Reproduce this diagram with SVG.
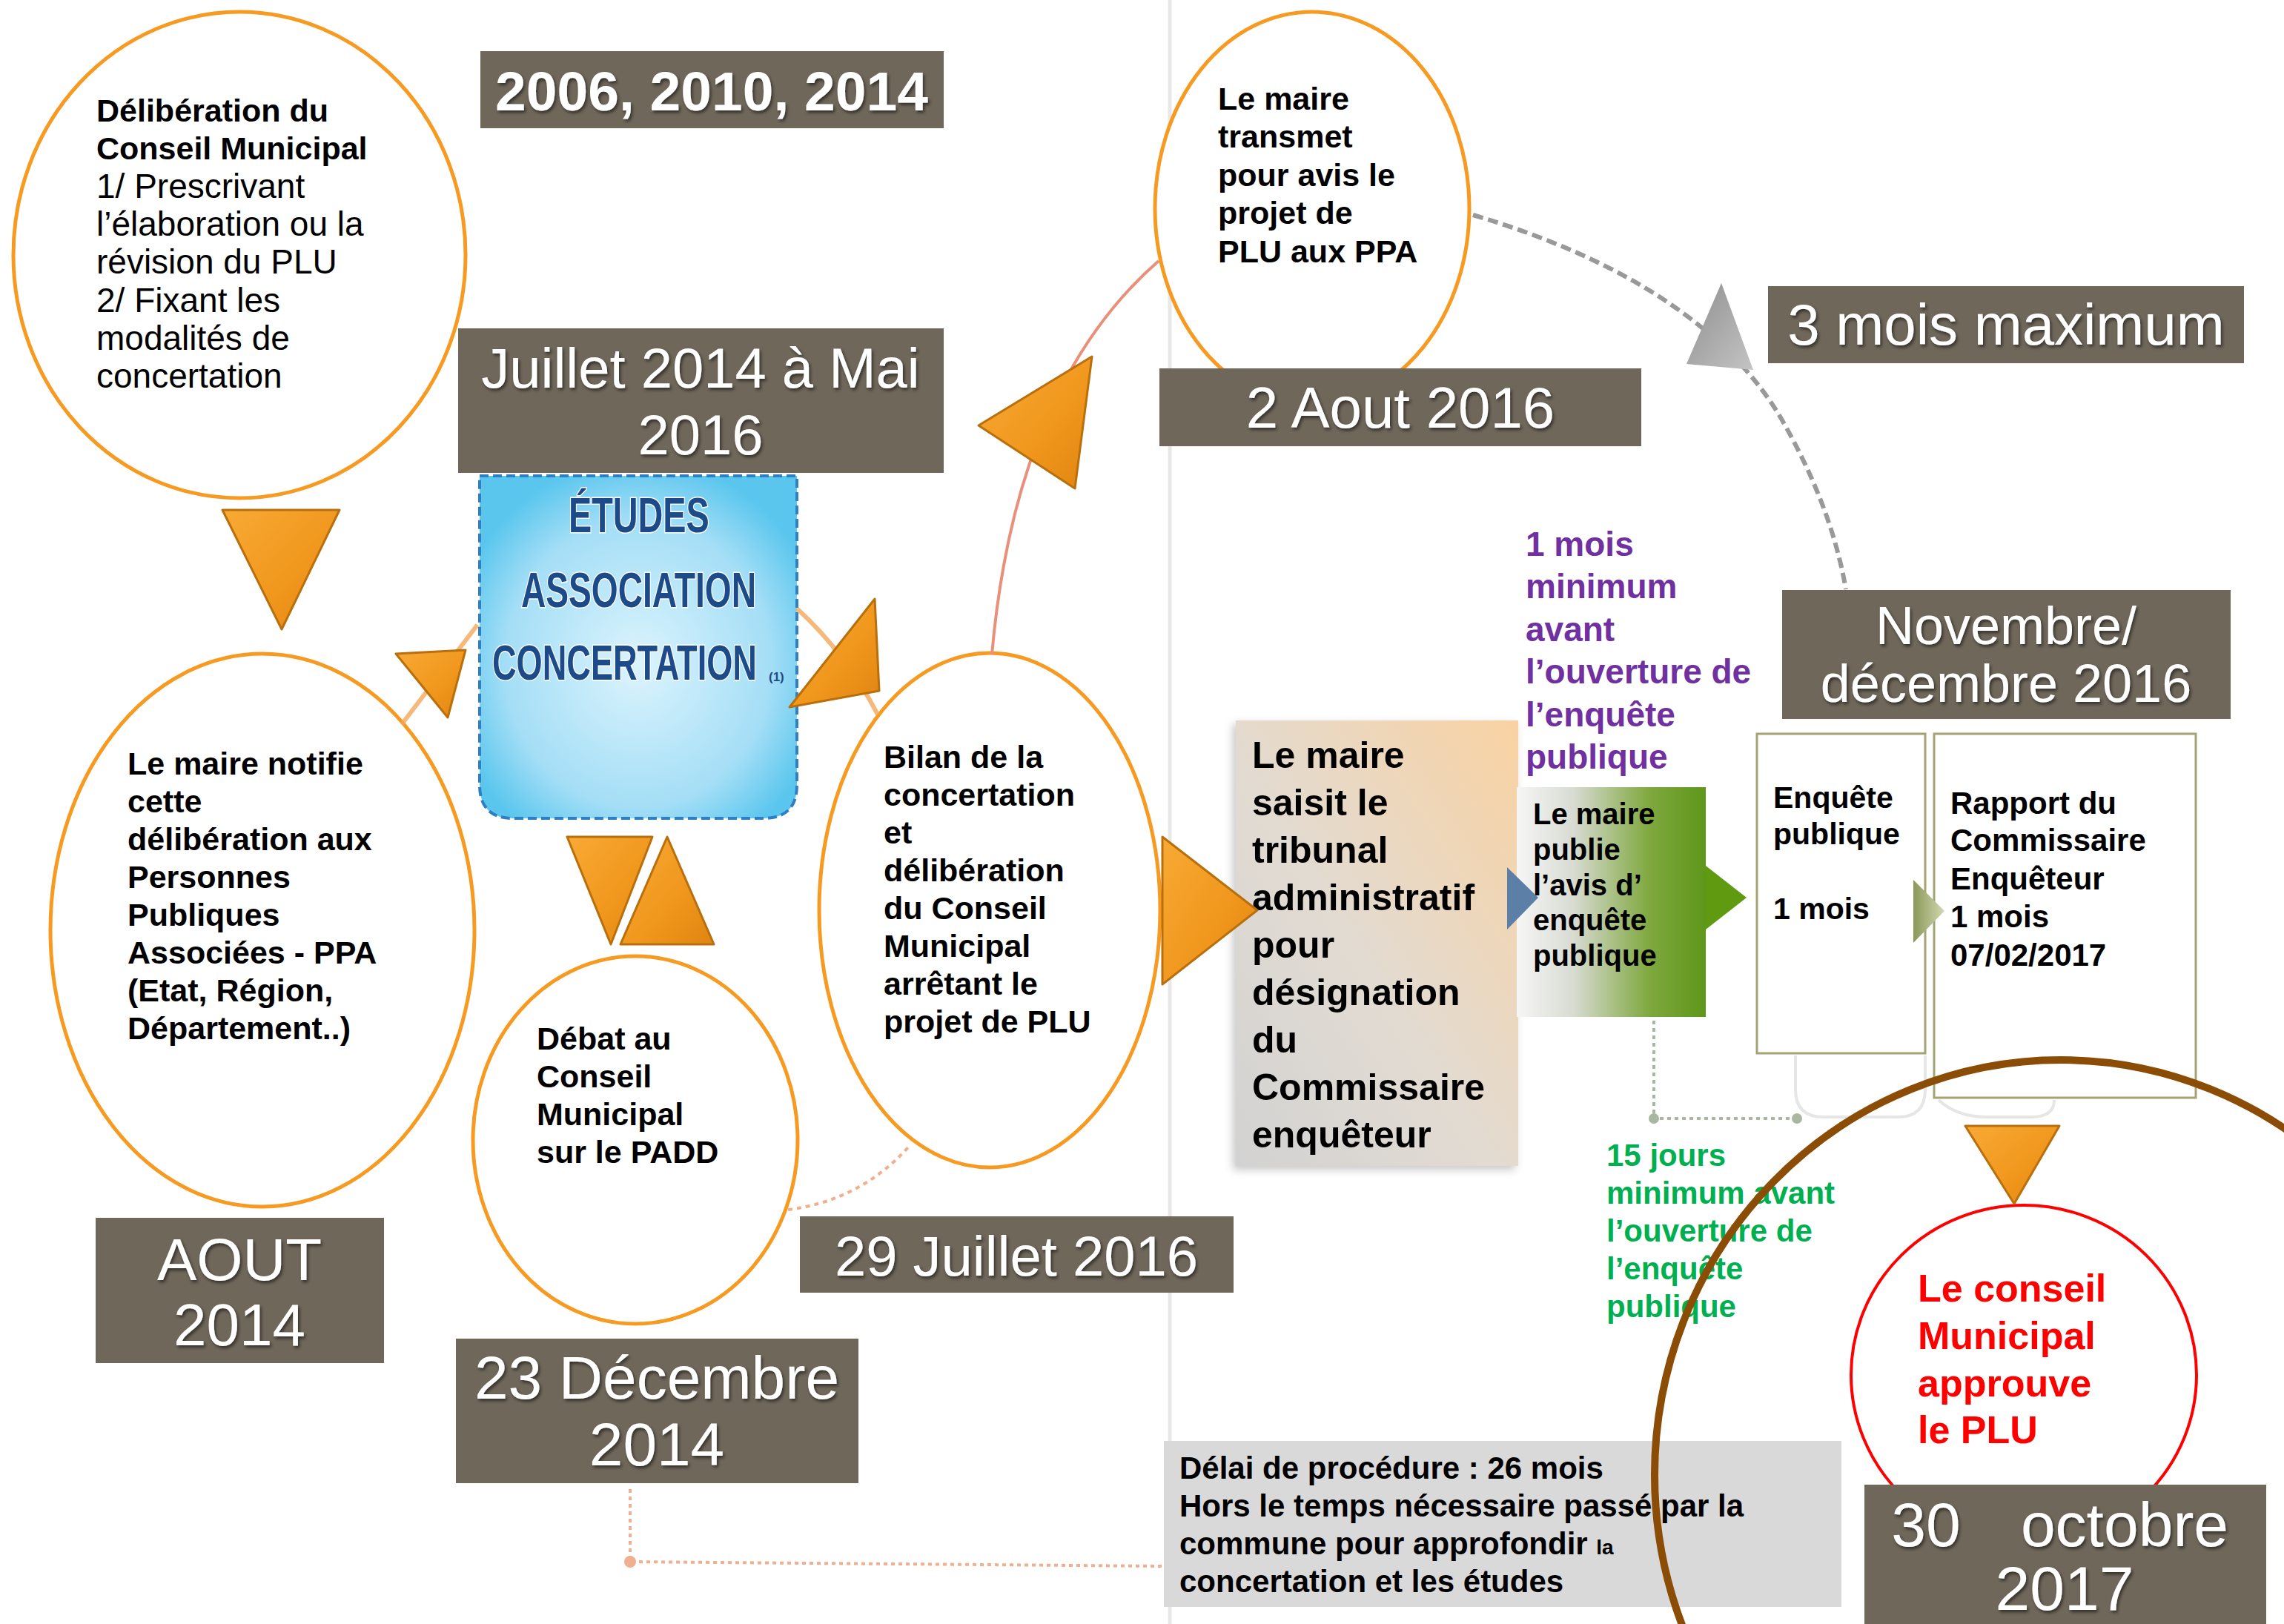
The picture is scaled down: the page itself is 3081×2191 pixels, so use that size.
<svg xmlns="http://www.w3.org/2000/svg" width="3081" height="2191" viewBox="0 0 3081 2191">
<defs>
<style>
.ell{fill:#ffffff;stroke:#f79a22;stroke-width:5}
.lab{fill:#6f675a}
.lt{font-family:"Liberation Sans",Arial,sans-serif;fill:#ffffff;text-anchor:middle;filter:url(#ts)}
.bt{font-family:"Liberation Sans",Arial,sans-serif;font-weight:bold;font-size:43px;fill:#000000}
.rt{font-family:"Liberation Sans",Arial,sans-serif;font-size:46px;fill:#000000}
.tri{fill:url(#og);stroke:#b9700c;stroke-width:3;stroke-linejoin:round}
.et{font-family:"Liberation Sans",Arial,sans-serif;font-weight:bold;font-size:66px;fill:#1d4a88;stroke:#ffffff;stroke-width:3;paint-order:stroke}
</style>
<filter id="ts" x="-10%" y="-20%" width="120%" height="140%">
<feDropShadow dx="2" dy="3" stdDeviation="2" flood-color="#000000" flood-opacity="0.55"/>
</filter>
<filter id="sh" x="-10%" y="-10%" width="125%" height="125%">
<feDropShadow dx="-4" dy="5" stdDeviation="6" flood-color="#000000" flood-opacity="0.22"/>
</filter>
<linearGradient id="og" x1="0" y1="0" x2="1" y2="1">
<stop offset="0" stop-color="#f8aa35"/>
<stop offset="0.6" stop-color="#f0961c"/>
<stop offset="1" stop-color="#e08410"/>
</linearGradient>
<linearGradient id="gg" x1="0" y1="0" x2="1" y2="1">
<stop offset="0" stop-color="#8e8e8e"/>
<stop offset="1" stop-color="#c4c4c4"/>
</linearGradient>
<radialGradient id="bg" cx="0.5" cy="0.55" r="0.6">
<stop offset="0" stop-color="#dcf4fd"/>
<stop offset="0.7" stop-color="#a4def6"/>
<stop offset="1" stop-color="#5ac6ee"/>
</radialGradient>
<linearGradient id="tg" x1="1" y1="0" x2="0" y2="1">
<stop offset="0" stop-color="#f9d2a2"/>
<stop offset="0.55" stop-color="#e2dbd2"/>
<stop offset="1" stop-color="#d2d2d2"/>
</linearGradient>
<linearGradient id="grg" x1="0" y1="0" x2="1" y2="0">
<stop offset="0" stop-color="#f6f6f6"/>
<stop offset="0.3" stop-color="#d8dbd2"/>
<stop offset="0.7" stop-color="#7fa83e"/>
<stop offset="1" stop-color="#5e971a"/>
</linearGradient>
<linearGradient id="olg" x1="0" y1="0" x2="1" y2="0">
<stop offset="0" stop-color="#8a9858"/>
<stop offset="1" stop-color="#d2d8b2"/>
</linearGradient>
</defs>
<rect x="0" y="0" width="3081" height="2191" fill="#ffffff"/>
<line x1="1578" y1="0" x2="1578" y2="2191" stroke="#e8e8e8" stroke-width="5"/>

<g id="n1">
<ellipse class="ell" cx="323" cy="344" rx="305" ry="328"/>
<text class="bt" x="130" y="164">Délibération du</text>
<text class="bt" x="130" y="215">Conseil Municipal</text>
<text class="rt" x="130" y="267">1/ Prescrivant</text>
<text class="rt" x="130" y="318">l’élaboration ou la</text>
<text class="rt" x="130" y="369">révision du PLU</text>
<text class="rt" x="130" y="421">2/ Fixant les</text>
<text class="rt" x="130" y="472">modalités de</text>
<text class="rt" x="130" y="523">concertation</text>
</g>

<g id="l1">
<rect class="lab" x="648" y="69" width="625" height="104"/>
<text class="lt" x="960" y="149" font-size="75" font-weight="bold">2006, 2010, 2014</text>
</g>

<g id="n2">
<ellipse class="ell" cx="354" cy="1255" rx="286" ry="373"/>
<text class="bt" x="172" y="1045">Le maire notifie</text>
<text class="bt" x="172" y="1096">cette</text>
<text class="bt" x="172" y="1147">délibération aux</text>
<text class="bt" x="172" y="1198">Personnes</text>
<text class="bt" x="172" y="1249">Publiques</text>
<text class="bt" x="172" y="1300">Associées - PPA</text>
<text class="bt" x="172" y="1351">(Etat, Région,</text>
<text class="bt" x="172" y="1402">Département..)</text>
</g>

<g id="n3">
<ellipse class="ell" cx="857" cy="1538" rx="219" ry="248"/>
<text class="bt" x="724" y="1416">Débat au</text>
<text class="bt" x="724" y="1467">Conseil</text>
<text class="bt" x="724" y="1518">Municipal</text>
<text class="bt" x="724" y="1569">sur le PADD</text>
</g>

<g id="n4">
<ellipse class="ell" cx="1335" cy="1228" rx="230" ry="347"/>
<text class="bt" x="1192" y="1036">Bilan de la</text>
<text class="bt" x="1192" y="1087">concertation</text>
<text class="bt" x="1192" y="1138">et</text>
<text class="bt" x="1192" y="1189">délibération</text>
<text class="bt" x="1192" y="1240">du Conseil</text>
<text class="bt" x="1192" y="1291">Municipal</text>
<text class="bt" x="1192" y="1342">arrêtant le</text>
<text class="bt" x="1192" y="1393">projet de PLU</text>
</g>

<g id="n5">
<ellipse class="ell" cx="1770" cy="281" rx="212" ry="265"/>
<text class="bt" x="1643" y="148">Le maire</text>
<text class="bt" x="1643" y="199">transmet</text>
<text class="bt" x="1643" y="251">pour avis le</text>
<text class="bt" x="1643" y="302">projet de</text>
<text class="bt" x="1643" y="354">PLU aux PPA</text>
</g>

<g id="etudes">
<path d="M647,642 H1075 V1059 Q1075,1104 1030,1104 H692 Q647,1104 647,1059 Z" fill="url(#bg)" stroke="#2f7fc4" stroke-width="4" stroke-dasharray="12 6"/>
<text class="et" x="0" y="0" transform="translate(767,718) scale(0.709,1)">ÉTUDES</text>
<text class="et" x="0" y="0" transform="translate(703,819) scale(0.699,1)">ASSOCIATION</text>
<text class="et" x="0" y="0" transform="translate(664,917) scale(0.684,1)">CONCERTATION</text>
<text x="1037" y="919" font-family="Liberation Sans,Arial,sans-serif" font-weight="bold" font-size="17" fill="#1d4a88">(1)</text>
</g>

<g id="l2">
<rect class="lab" x="618" y="443" width="655" height="195"/>
<text class="lt" x="945" y="523" font-size="76">Juillet 2014 à Mai</text>
<text class="lt" x="945" y="613" font-size="76">2016</text>
</g>

<g id="l3">
<rect class="lab" x="129" y="1643" width="389" height="196"/>
<text class="lt" x="323" y="1727" font-size="80">AOUT</text>
<text class="lt" x="323" y="1815" font-size="80">2014</text>
</g>

<g id="l4">
<rect class="lab" x="615" y="1806" width="543" height="195"/>
<text class="lt" x="886" y="1887" font-size="82">23 Décembre</text>
<text class="lt" x="886" y="1977" font-size="82">2014</text>
</g>

<g id="l5">
<rect class="lab" x="1079" y="1641" width="585" height="103"/>
<text class="lt" x="1371" y="1721" font-size="76">29 Juillet 2016</text>
</g>

<g id="l6">
<rect class="lab" x="1564" y="497" width="650" height="105"/>
<text class="lt" x="1889" y="577" font-size="78">2 Aout 2016</text>
</g>

<g id="l7">
<rect class="lab" x="2385" y="386" width="642" height="104"/>
<text class="lt" x="2706" y="465" font-size="78">3 mois maximum</text>
</g>

<g id="n6">
<rect x="1667" y="972" width="381" height="601" fill="url(#tg)" filter="url(#sh)"/>
<g font-family="Liberation Sans,Arial,sans-serif" font-weight="bold" font-size="50" fill="#000000">
<text x="1689" y="1036">Le maire</text>
<text x="1689" y="1100">saisit le</text>
<text x="1689" y="1164">tribunal</text>
<text x="1689" y="1228">administratif</text>
<text x="1689" y="1292">pour</text>
<text x="1689" y="1356">désignation</text>
<text x="1689" y="1420">du</text>
<text x="1689" y="1484">Commissaire</text>
<text x="1689" y="1548">enquêteur</text>
</g>
</g>

<g id="t1" font-family="Liberation Sans,Arial,sans-serif" font-weight="bold" font-size="46" fill="#7030a0">
<text x="2058" y="750">1 mois</text>
<text x="2058" y="807">minimum</text>
<text x="2058" y="865">avant</text>
<text x="2058" y="922">l’ouverture de</text>
<text x="2058" y="980">l’enquête</text>
<text x="2058" y="1037">publique</text>
</g>

<g id="n7">
<rect x="2046" y="1062" width="255" height="310" fill="url(#grg)"/>
<g font-family="Liberation Sans,Arial,sans-serif" font-weight="bold" font-size="40" fill="#000000">
<text x="2068" y="1112">Le maire</text>
<text x="2068" y="1160">publie</text>
<text x="2068" y="1208">l’avis d’</text>
<text x="2068" y="1255">enquête</text>
<text x="2068" y="1303">publique</text>
</g>
</g>

<g id="n8">
<rect x="2370" y="990" width="227" height="431" fill="#ffffff" stroke="#a3a374" stroke-width="3"/>
<g font-family="Liberation Sans,Arial,sans-serif" font-weight="bold" font-size="41" fill="#000000">
<text x="2392" y="1090">Enquête</text>
<text x="2392" y="1139">publique</text>
<text x="2392" y="1240">1 mois</text>
</g>
</g>

<g id="n9">
<rect x="2609" y="990" width="353" height="491" fill="#ffffff" stroke="#a3a374" stroke-width="3"/>
<g font-family="Liberation Sans,Arial,sans-serif" font-weight="bold" font-size="42" fill="#000000">
<text x="2631" y="1098">Rapport du</text>
<text x="2631" y="1148">Commissaire</text>
<text x="2631" y="1200">Enquêteur</text>
<text x="2631" y="1251">1 mois</text>
<text x="2631" y="1303">07/02/2017</text>
</g>
</g>

<g id="l8">
<rect class="lab" x="2404" y="796" width="605" height="174"/>
<text class="lt" x="2706" y="869" font-size="72">Novembre/</text>
<text class="lt" x="2706" y="947" font-size="72">décembre 2016</text>
</g>

<g id="t2" font-family="Liberation Sans,Arial,sans-serif" font-weight="bold" font-size="42" fill="#00b050">
<text x="2167" y="1573">15 jours</text>
<text x="2167" y="1624">minimum avant</text>
<text x="2167" y="1675">l’ouverture de</text>
<text x="2167" y="1726">l’enquête</text>
<text x="2167" y="1777">publique</text>
</g>

<g id="n11">
<rect x="1570" y="1944" width="914" height="224" fill="#d9d9d9"/>
<g font-family="Liberation Sans,Arial,sans-serif" font-weight="bold" font-size="42" fill="#000000">
<text x="1591" y="1995">Délai de procédure : 26 mois</text>
<text x="1591" y="2046">Hors le temps nécessaire passé par la</text>
<text x="1591" y="2097">commune pour approfondir <tspan font-size="28">la</tspan></text>
<text x="1591" y="2148">concertation et les études</text>
</g>
</g>

<g id="n10">
<ellipse cx="2730" cy="1855" rx="233" ry="229" fill="#ffffff" stroke="#ff0000" stroke-width="4"/>
<g font-family="Liberation Sans,Arial,sans-serif" font-weight="bold" font-size="52" fill="#ff0000">
<text x="2587" y="1756">Le conseil</text>
<text x="2587" y="1820">Municipal</text>
<text x="2587" y="1884">approuve</text>
<text x="2587" y="1947">le PLU</text>
</g>
</g>

<g id="l9">
<rect class="lab" x="2515" y="2003" width="542" height="188"/>
<text class="lt" x="2598" y="2086" font-size="84">30</text>
<text class="lt" x="2866" y="2086" font-size="84">octobre</text>
<text class="lt" x="2785" y="2172" font-size="84">2017</text>
</g>

<g id="connectors">
<path d="M542,977 L644,843" fill="none" stroke="#f2a85a" stroke-width="6" opacity="0.8"/>
<path d="M1075,821 Q1140,880 1184,964" fill="none" stroke="#f2a85a" stroke-width="6" opacity="0.8"/>
<path d="M1338,883 Q1370,520 1563,352" fill="none" stroke="#e8907a" stroke-width="4"/>
<path d="M1063,1632 Q1160,1620 1226,1547" fill="none" stroke="#f0b090" stroke-width="4" stroke-dasharray="6 6"/>
<path d="M850,2009 L850,2107 L1568,2113" fill="none" stroke="#f0b090" stroke-width="4" stroke-dasharray="5 5"/>
<circle cx="850" cy="2107" r="8" fill="#f0b090"/>
<path d="M1987,290 Q2290,380 2400,560 Q2470,680 2490,795" fill="none" stroke="#999999" stroke-width="6" stroke-dasharray="14 7"/>
<path d="M2231,1377 L2231,1509 L2424,1509" fill="none" stroke="#a8b8a0" stroke-width="4" stroke-dasharray="5 5"/>
<circle cx="2231" cy="1509" r="7" fill="#a8b8a0"/>
<circle cx="2424" cy="1509" r="7" fill="#a8b8a0"/>
<path d="M2422,1424 L2422,1470 Q2422,1507 2460,1507 L2560,1507 Q2597,1507 2597,1470 L2597,1424" fill="none" stroke="#e6e6e6" stroke-width="4"/>
<path d="M2615,1484 Q2640,1507 2680,1507 L2740,1507 Q2771,1507 2771,1484" fill="none" stroke="#e6e6e6" stroke-width="4"/>
<polygon class="tri" points="300,688 458,688 380,849"/>
<polygon class="tri" points="534,882 628,877 604,968"/>
<polygon class="tri" points="1180,808 1186,932 1065,954"/>
<polygon class="tri" points="765,1129 880,1129 824,1274"/>
<polygon class="tri" points="900,1129 963,1274 837,1274"/>
<polygon class="tri" points="1320,574 1473,481 1450,659"/>
<polygon class="tri" points="1568,1129 1696,1228 1568,1328"/>
<polygon fill="url(#gg)" points="2322,382 2275,491 2365,499"/>
<polygon fill="#5b7fa6" points="2033,1170 2075,1211 2033,1254"/>
<polygon fill="#5f9a10" points="2301,1168 2356,1211 2301,1254"/>
<polygon fill="url(#olg)" points="2581,1187 2623,1229 2581,1272"/>
</g>

<g id="arc">
<ellipse cx="2780" cy="1990" rx="548" ry="560" fill="none" stroke="#8b4c06" stroke-width="10"/>
<polygon class="tri" points="2651,1519 2778,1519 2717,1624"/>
</g>
</svg>
